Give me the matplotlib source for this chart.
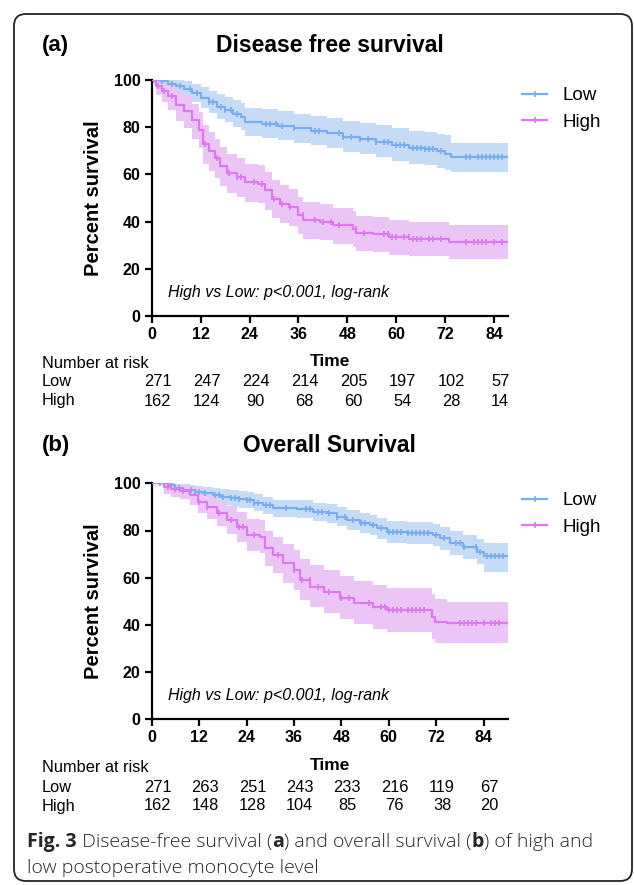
import numpy as np
import matplotlib
matplotlib.use("Agg")
import matplotlib.pyplot as plt
from matplotlib.lines import Line2D
from matplotlib.patches import FancyBboxPatch
from matplotlib.transforms import blended_transform_factory

plt.rcParams['font.family'] = ['Liberation Sans', 'DejaVu Sans']

# ---------------- data ----------------
groups = ["Low", "High"]
xticks = [0, 12, 24, 36, 48, 60, 72, 84]
yticks = [0, 20, 40, 60, 80, 100]

# (a) Disease free survival
dfs_low_t = [0, 2, 4, 6, 8, 10, 12, 14, 16, 18, 20, 22, 23, 27, 31, 35, 39, 43, 47, 51, 55, 59, 63, 67, 70, 72, 73.5, 87.4]
dfs_low_s = [100, 99.5, 98.5, 97.5, 96, 94.5, 92.5, 90.5, 88.5, 87.3, 85.8, 84.5, 82, 81.5, 80.5, 79.5, 78.5, 77.5, 76, 75, 73.8, 72.5, 71.3, 70.7, 69.8, 68.8, 67.5, 67.5]
dfs_low_hi = [100, 100, 100, 100, 99.5, 98.5, 97, 95.5, 94, 93, 91.5, 90.3, 88, 87.6, 86.7, 85.8, 84.8, 84, 82.8, 81.8, 80.8, 79.7, 78.6, 78, 77.3, 76.5, 73.5, 73]
dfs_low_lo = [100, 98, 96, 94.5, 92.5, 90.5, 88, 86, 83.5, 82, 80.2, 78.8, 76.2, 75.6, 74.5, 73.4, 72.3, 71.2, 69.5, 68.5, 67.2, 65.8, 64.5, 63.8, 62.8, 61.8, 61, 60.5]
dfs_low_cens = [1, 2.5, 5, 7, 9.5, 11, 14, 15, 17, 18, 19.5, 21, 28, 29, 30.5, 32, 35, 40, 41, 46, 47, 49, 51, 53, 55, 57, 58, 60, 61, 62, 64, 65, 66, 67, 68, 69, 71, 77, 78, 80, 81, 82, 83, 84, 85, 86]

dfs_high_t = [0, 1, 2.5, 4, 6, 8, 10, 11.5, 12.5, 14, 15.5, 16.7, 18.5, 21, 23, 26, 27.7, 29.4, 31.4, 33.8, 35.9, 37.1, 41.2, 44.4, 49.3, 50.2, 54.2, 58.3, 63.2, 73, 87.4]
dfs_high_s = [100, 97.6, 95.5, 93.4, 89.5, 87, 83, 79, 73, 70, 67, 63.5, 60.5, 58.9, 56.7, 56, 53.2, 49.7, 47.6, 46.2, 42.7, 40.6, 39.8, 38.4, 37, 35.2, 34.6, 33.5, 32.8, 31.4, 31.4]
dfs_high_hi = [100, 100, 99.5, 98.5, 95.5, 93.5, 90, 86.5, 81, 78, 75, 71.5, 68.5, 66.8, 64.5, 63.8, 61, 57.5, 55.3, 53.8, 50.3, 48.2, 47.3, 45.8, 44.3, 42.5, 41.8, 40.7, 40, 38.6, 38.4]
dfs_high_lo = [100, 93.5, 90.5, 87.5, 82.5, 79.5, 75, 71, 64.5, 61.5, 58.5, 55, 52, 50.5, 48.5, 47.8, 45, 41.5, 39.5, 38.2, 34.8, 32.8, 32, 30.7, 29.3, 27.6, 27, 26, 25.3, 24, 23.7]
dfs_high_cens = [0.5, 1.5, 3, 5, 13, 16, 19, 21, 22, 25, 27, 30, 32, 34, 37, 40, 42, 44, 46, 50, 52, 57, 58, 59, 60, 62, 63, 64, 65, 66, 68, 69, 71, 77, 79, 80, 81, 82, 84, 86]

dfs_risk_low = [271, 247, 224, 214, 205, 197, 102, 57]
dfs_risk_high = [162, 124, 90, 68, 60, 54, 28, 14]

# (b) Overall survival
os_low_t = [0, 4, 6, 8, 11, 13, 15.6, 17.5, 19.8, 22, 24, 26, 28.3, 30.8, 36.7, 40.9, 44.3, 46.9, 49.4, 52.8, 55.3, 57, 59.5, 64.6, 71.3, 73, 75.6, 78.9, 82.3, 84, 90.2]
os_low_s = [100, 99.2, 98, 97.2, 96.5, 95.8, 95, 94.3, 93.6, 93.2, 92.9, 91.8, 90.8, 89.4, 89, 88, 87.3, 85.9, 84.5, 83.3, 82.3, 80.9, 79.5, 78.8, 78.1, 76.7, 74.6, 73.2, 71, 69.2, 69.2]
os_low_hi = [100, 100, 99.8, 99.4, 99, 98.6, 98, 97.5, 97, 96.6, 96.3, 95.3, 94.4, 93.1, 92.8, 91.8, 91.2, 89.8, 88.6, 87.5, 86.6, 85.3, 84, 83.4, 82.8, 81.5, 79.6, 78.3, 76.2, 74.8, 74.8]
os_low_lo = [100, 97.5, 96, 94.8, 93.8, 93, 91.8, 91, 90.2, 89.7, 89.4, 88.2, 87.1, 85.6, 85.1, 84, 83.3, 81.8, 80.3, 79, 77.9, 76.4, 74.9, 74.2, 73.4, 71.9, 69.6, 68.1, 65.7, 62.5, 62.5]
os_low_cens = [2, 5, 6, 7, 10, 11, 12, 13.5, 16, 17, 18, 20, 21, 22, 24, 25, 26, 27, 29, 30, 34, 39, 40, 42, 43, 45, 47, 49, 51, 53, 54, 56, 58, 60, 61, 62, 63, 65, 66, 67, 68, 69, 70, 72, 74, 77, 78, 79, 82, 83, 85, 86, 87, 88, 89]

os_high_t = [0, 3, 5, 7.2, 9.7, 11.8, 13.9, 16.5, 19, 21.5, 24, 27.4, 28.7, 30.8, 33.3, 35.9, 37.6, 40.1, 43.5, 47.7, 51.1, 56.1, 59.5, 69.6, 70.9, 71.6, 74.7, 90.2]
os_high_s = [100, 98.5, 97.6, 96.9, 95, 92.2, 90.1, 87.3, 84.5, 81.6, 78.1, 77.4, 72.5, 69.6, 66.1, 63.3, 59, 56.2, 54.1, 51.3, 49.4, 47.7, 46.3, 46.3, 43.5, 41.4, 40.7, 40.7]
os_high_hi = [100, 100, 99.8, 99.5, 98.3, 96.5, 94.8, 92.5, 90.2, 87.8, 85, 84.4, 80, 77.4, 74.3, 71.7, 67.8, 65.2, 63.2, 60.6, 58.8, 57.1, 55.8, 55.8, 53.1, 51, 49.5, 49]
os_high_lo = [100, 95.5, 94.3, 93.2, 90.8, 87.4, 84.9, 81.7, 78.4, 75.1, 71.2, 70.4, 64.9, 61.8, 57.9, 55, 50.4, 47.4, 45.2, 42.3, 40.2, 38.4, 37, 37, 34.2, 32.2, 32.2, 32.2]
os_high_cens = [2, 4, 6, 8, 12, 14, 17, 20, 22, 23, 26, 32, 36, 38, 40, 42, 45, 48, 50, 55, 58, 59, 60, 61, 62, 63, 65, 66, 67, 68, 69, 78, 79, 80, 81, 82, 84, 86, 87, 88]

os_risk_low = [271, 263, 251, 243, 233, 216, 119, 67]
os_risk_high = [162, 148, 128, 104, 85, 76, 38, 20]

# ---------------- styles ----------------
LOW_C, LOW_F = "#78adf0", "#c6dcf6"
HIGH_C, HIGH_F = "#dc78f0", "#ecc5f7"

W, H = 634, 885
fig = plt.figure(figsize=(W / 100, H / 100), dpi=100)


def fx(x):
    return x / W


def fy(y):
    return 1 - y / H


# rounded frame
frame = FancyBboxPatch((0.14, 0.04), 6.18, 8.67, boxstyle="round,pad=0,rounding_size=0.12",
                       transform=fig.dpi_scale_trans, fill=False, lw=1.3, ec="#222222")
fig.patches.append(frame)


def step_lookup(t, s, c):
    idx = np.searchsorted(np.asarray(t), c, side="right") - 1
    return np.asarray(s)[idx]


def panel(top_px, xmax, curves, risk, label, title, y_title, y_time, y_nar, leg_top):
    left, right, bottom = 151.7, 508, top_px + 236
    ax = fig.add_axes([fx(left), fy(bottom), fx(right - left), (bottom - top_px) / H])
    for (t, s, hi, lo, cens, c, f) in curves:
        ax.fill_between(t, lo, hi, step="post", color=f, lw=0, zorder=1)
        ax.step(t, s, where="post", color=c, lw=1.6, zorder=3)
        ax.plot(cens, step_lookup(t, s, cens), ls="none", marker="|", ms=5, mew=1.2, color=c, zorder=3)
    ax.set_xlim(0, xmax)
    ax.set_ylim(0, 100)
    ax.set_xticks(xticks)
    ax.set_yticks(yticks)
    for sp in ["top", "right"]:
        ax.spines[sp].set_visible(False)
    for sp in ["left", "bottom"]:
        ax.spines[sp].set_linewidth(1.6)
    ax.tick_params(direction="out", length=5, width=1.6, labelsize=11.5, pad=3)
    for lab in ax.get_xticklabels() + ax.get_yticklabels():
        lab.set_fontweight("bold")
    ax.set_ylabel("Percent survival", fontsize=14.5, fontweight="bold", labelpad=8)
    ax.text(0.045, 0.1, "High vs Low: p<0.001, log-rank", transform=ax.transAxes,
            fontsize=11.5, style="italic", va="center", ha="left")
    # titles
    fig.text(fx(42), fy(y_title), label, fontsize=16, fontweight="bold", va="center", ha="left")
    fig.text(fx((left + right) / 2), fy(y_title), title, fontsize=16.5, fontweight="bold",
             va="center", ha="center")
    fig.text(fx((left + right) / 2), fy(y_time), "Time", fontsize=12.5, fontweight="bold",
             va="center", ha="center")
    # legend
    handles = [Line2D([0], [0], color=c, lw=1.6, marker="|", ms=5, mew=1.2)
               for (_, _, _, _, _, c, _) in curves]
    ax.legend(handles, groups, loc="upper left", bbox_to_anchor=(fx(522), fy(leg_top)),
              bbox_transform=fig.transFigure, frameon=False, fontsize=13.5, numpoints=1,
              handlelength=1.35, handletextpad=0.8, labelspacing=0.5,
              borderpad=0, borderaxespad=0)
    # number at risk
    fig.text(fx(42), fy(y_nar), "Number at risk", fontsize=11.8, va="center", ha="left")
    tr = blended_transform_factory(ax.transData, fig.transFigure)
    for k, (g, vals) in enumerate(zip(groups, risk)):
        yy = fy(y_nar + 19 * (k + 1))
        fig.text(fx(42), yy, g, fontsize=11.8, va="center", ha="left")
        for xt, v in zip(xticks, vals):
            ax.text(xt + 1.5, yy, str(v), transform=tr, fontsize=11.8, va="center", ha="center")
    return ax


panel(80, 87.4,
      [(dfs_low_t, dfs_low_s, dfs_low_hi, dfs_low_lo, dfs_low_cens, LOW_C, LOW_F),
       (dfs_high_t, dfs_high_s, dfs_high_hi, dfs_high_lo, dfs_high_cens, HIGH_C, HIGH_F)],
      [dfs_risk_low, dfs_risk_high], "(a)", "Disease free survival", 45, 361, 363, 87)

panel(483.3, 90.2,
      [(os_low_t, os_low_s, os_low_hi, os_low_lo, os_low_cens, LOW_C, LOW_F),
       (os_high_t, os_high_s, os_high_hi, os_high_lo, os_high_cens, HIGH_C, HIGH_F)],
      [os_risk_low, os_risk_high], "(b)", "Overall Survival", 446, 766, 768, 492)

# caption with mixed weights
cap_font = ["Open Sans", "DejaVu Sans"]
renderer = fig.canvas.get_renderer()


def rich_line(x0, y, parts, size=14.0):
    x = x0
    for txt, bold in parts:
        t = fig.text(fx(x), fy(y), txt, fontsize=size, family=cap_font,
                     fontweight="bold" if bold else 300, va="center", ha="left", color="#262626")
        bb = t.get_window_extent(renderer=renderer)
        x += bb.width


rich_line(27, 842, [("Fig. 3", True), (" Disease-free survival (", False), ("a", True),
                    (") and overall survival (", False), ("b", True), (") of high and", False)])
rich_line(27, 868, [("low postoperative monocyte level", False)])

fig.savefig("out.png", dpi=100)
